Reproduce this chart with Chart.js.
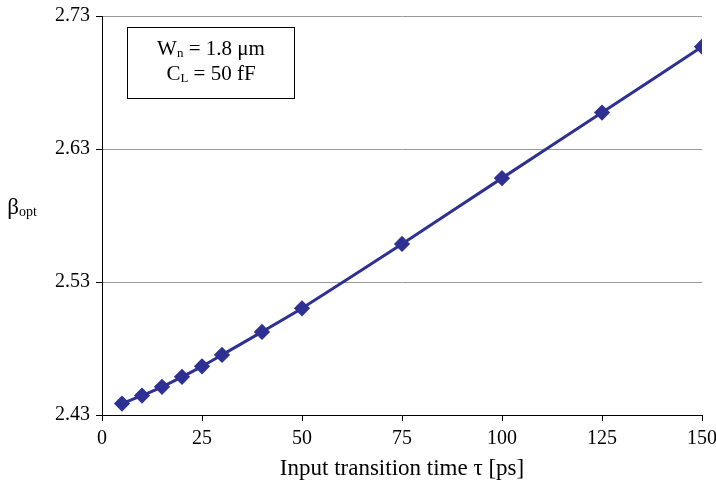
<!DOCTYPE html>
<html>
<head>
<meta charset="utf-8">
<script src="https://cdn.jsdelivr.net/npm/chart.js@4.4.1/dist/chart.umd.min.js"></script>
<style>
  html, body { margin: 0; padding: 0; background: #fff; }
  #wrap { width: 716px; height: 489px; position: relative; }
</style>
</head>
<body>
<div id="wrap"><canvas id="betaChart"></canvas></div>
<script>
// input transition time [ps] and optimum beta
const tau = [5, 10, 15, 20, 25, 30, 40, 50, 75, 100, 125, 150];
const betaOpt = [2.4386, 2.4446, 2.4512, 2.4587, 2.4666, 2.4752, 2.4925, 2.5102, 2.5586, 2.6081, 2.6574, 2.7069];
const xTicks = [0, 25, 50, 75, 100, 125, 150];
const yTicks = [2.43, 2.53, 2.63, 2.73];

const serif = "'Liberation Serif', 'Times New Roman', serif";
const navy = '#2E3192';

// text with a subscript part, drawn centred at (cx, cy)
function subText(ctx, parts, cx, cy, size) {
    const big = size + 'px ' + serif;
    const small = Math.round(size * 0.62) + 'px ' + serif;
    let w = 0;
    parts.forEach(p => { ctx.font = p.sub ? small : big; w += ctx.measureText(p.t).width; });
    let x = cx - w / 2;
    ctx.textAlign = 'left';
    ctx.textBaseline = 'alphabetic';
    parts.forEach(p => {
        ctx.font = p.sub ? small : big;
        ctx.fillText(p.t, x, p.sub ? cy + size * 0.45 : cy + size * 0.33);
        x += ctx.measureText(p.t).width;
    });
}

const extras = {
    id: 'extras',
    afterDraw(chart) {
        const ctx = chart.ctx;
        ctx.save();
        ctx.fillStyle = '#000';
        // y axis label beta_opt
        subText(ctx, [{ t: 'β' }, { t: 'opt', sub: true }], 22, 206, 23);
        // info box
        ctx.strokeStyle = '#000';
        ctx.lineWidth = 1;
        ctx.strokeRect(127.5, 27.5, 167, 71);
        subText(ctx, [{ t: 'W' }, { t: 'n', sub: true }, { t: ' = 1.8 μm' }], 211, 48, 21);
        subText(ctx, [{ t: 'C' }, { t: 'L', sub: true }, { t: ' = 50 fF' }], 211, 73, 21);
        ctx.restore();
    }
};

new Chart(document.getElementById('betaChart'), {
    type: 'line',
    data: {
        datasets: [{
            data: tau.map((t, i) => ({ x: t, y: betaOpt[i] })),
            borderColor: navy,
            backgroundColor: navy,
            borderWidth: 3,
            pointStyle: 'rectRot',
            pointRadius: 6,
            pointHoverRadius: 6,
            tension: 0.2
        }]
    },
    options: {
        responsive: true,
        maintainAspectRatio: false,
        animation: false,
        events: [],
        layout: { padding: { left: 0, right: 14, top: 16, bottom: 0 } },
        plugins: { legend: { display: false }, tooltip: { enabled: false } },
        scales: {
            x: {
                type: 'linear',
                min: 0,
                max: 150,
                afterBuildTicks: s => { s.ticks = xTicks.map(v => ({ value: v })); },
                afterFit: s => { s.height = 74; s.paddingLeft = 0; s.paddingRight = 0; },
                grid: { drawOnChartArea: false, drawTicks: true, tickLength: 6, tickColor: '#000' },
                border: { color: '#000', width: 1 },
                ticks: { color: '#000', font: { family: serif, size: 20 }, padding: 6, maxRotation: 0 },
                title: { display: true, text: 'Input transition time τ [ps]', color: '#000', font: { family: serif, size: 23 }, padding: { top: 6, bottom: 6 } }
            },
            y: {
                min: 2.43,
                max: 2.73,
                afterBuildTicks: s => { s.ticks = yTicks.map(v => ({ value: v })); },
                afterFit: s => { s.width = 102; s.paddingTop = 0; s.paddingBottom = 0; },
                grid: { color: '#999999', lineWidth: 1, drawTicks: true, tickLength: 6, tickColor: '#000' },
                border: { color: '#000', width: 1 },
                ticks: { color: '#000', font: { family: serif, size: 20 }, padding: 6, callback: v => v.toFixed(2) }
            }
        }
    },
    plugins: [extras]
});
</script>
</body>
</html>
